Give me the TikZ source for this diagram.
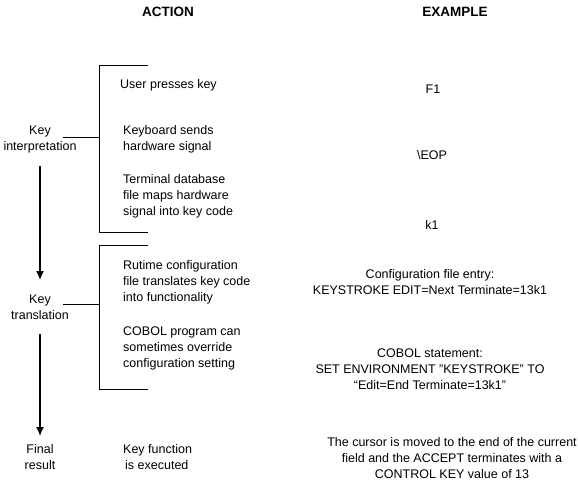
\documentclass[tikz,border=0pt]{standalone}
\usepackage{fontspec}
\setmainfont{Liberation Sans}
\usetikzlibrary{arrows.meta}
\begin{document}
\begin{tikzpicture}[x=1pt,y=-1pt,
  txt/.style={font=\fontsize{12.5}{16}\selectfont, inner sep=0pt},
  ltxt/.style={txt, align=left, anchor=west},
  ctxt/.style={txt, align=center},
  hdr/.style={font=\bfseries\fontsize{13.5}{16}\selectfont, inner sep=0pt},
  ln/.style={line width=0.9pt},
  arr/.style={line width=1.3pt, -{Latex[length=9pt,width=8pt]}}]
\useasboundingbox (0,0) rectangle (578,484);
\node[hdr] (h1) at (168,12) {ACTION};
\node[hdr] (h2) at (455,12) {EXAMPLE};
% left labels
\node[ctxt] (k1) at (40,139) {Key\\interpretation};
\node[ctxt] (k2) at (40,307) {Key\\translation};
\node[ctxt] (k3) at (40,457) {Final\\result};
% brackets
\coordinate (b1t) at (148,65); \coordinate (b1b) at (148,232);
\draw[ln] (b1t) -- (99,65) -- (99,232) -- (b1b);
\coordinate (t1) at (63,137);
\draw[ln] (t1) -- (99,137);
\coordinate (b2t) at (148,245); \coordinate (b2b) at (148,389);
\draw[ln] (b2t) -- (99,245) -- (99,389) -- (b2b);
\coordinate (t2) at (63,304);
\draw[ln] (t2) -- (99,304);
% arrows
\coordinate (a1s) at (40,166); \coordinate (a1e) at (40,280);
\coordinate (a2s) at (40,334); \coordinate (a2e) at (40,436);
\draw[arr] (a1s) -- (a1e);
\draw[arr] (a2s) -- (a2e);
% action texts
\node[ltxt] (a1) at (120,85) {User presses key};
\node[ltxt] (a2) at (123,139) {Keyboard sends\\hardware signal};
\node[ltxt] (a3) at (123,196) {Terminal database\\file maps hardware\\signal into key code};
\node[ltxt] (a4) at (123,282) {Rutime configuration\\file translates key code\\into functionality};
\node[ltxt] (a5) at (123,348) {COBOL program can\\sometimes override\\configuration setting};
\node[ltxt] (a6) at (123,457) {Key function\\\hspace{2pt}is executed};
% examples
\node[ctxt] (e1) at (433,89) {F1};
\node[ctxt] (e2) at (432,155) {\textbackslash EOP};
\node[ctxt] (e3) at (432,225) {k1};
\node[ctxt] (e4) at (430,282) {Configuration file entry:\\KEYSTROKE EDIT=Next Terminate=13k1};
\node[ctxt] (e5) at (430,369) {COBOL statement:\\SET ENVIRONMENT "KEYSTROKE" TO\\“Edit=End Terminate=13k1"};
\node[ctxt] (e6) at (452,458) {The cursor is moved to the end of the current\\field and the ACCEPT terminates with a\\CONTROL KEY value of 13};
\end{tikzpicture}
\end{document}
